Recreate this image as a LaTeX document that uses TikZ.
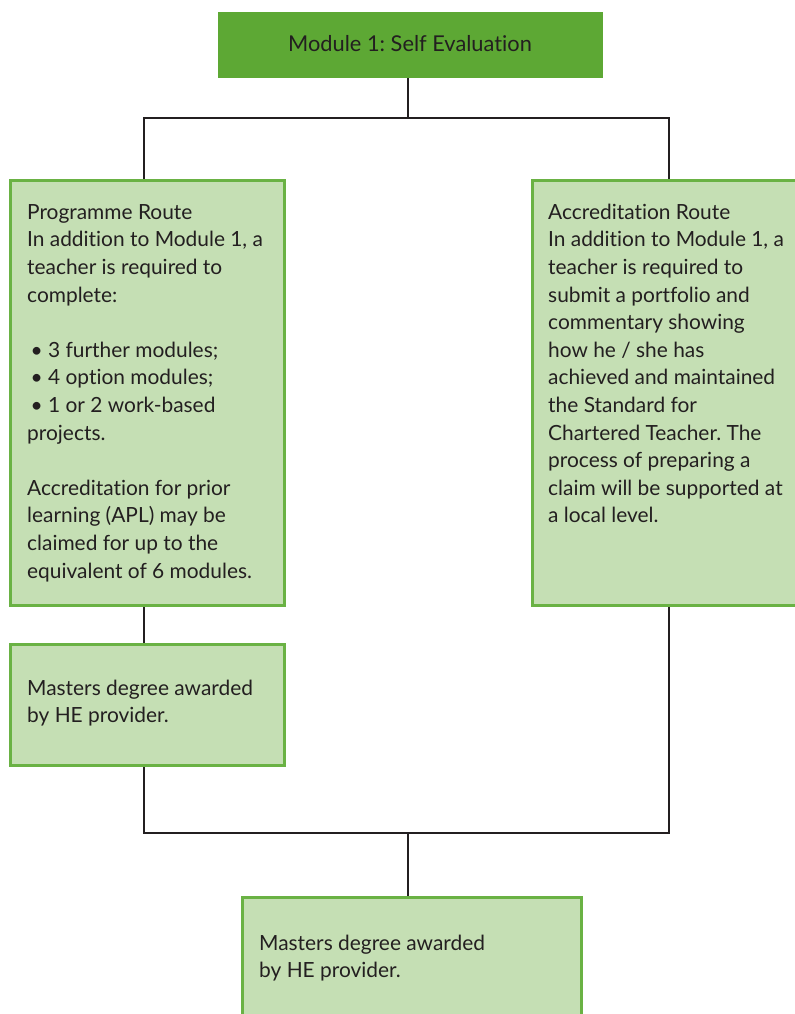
\documentclass[tikz,border=0pt]{standalone}
\usepackage{fontspec}
\setmainfont[Ligatures={NoCommon}]{Lato}
\usetikzlibrary{backgrounds}
\definecolor{topgreen}{RGB}{93,168,52}
\definecolor{lightfill}{RGB}{197,223,180}
\definecolor{boxline}{RGB}{106,178,68}
\definecolor{ink}{RGB}{35,31,32}
\newcommand{\firstline}{\rule{0pt}{22bp}}
\begin{document}
\frenchspacing
\begin{tikzpicture}[x=1bp,y=-1bp,
  lightbox/.style={draw=boxline, line width=2.6bp, fill=lightfill, rectangle, inner sep=0pt, anchor=north west},
  topbox/.style={fill=topgreen, rectangle, inner sep=0pt, anchor=north west},
  txt/.style={anchor=north west, inner sep=0pt, align=left, text=ink,
    font={\fontsize{20.9bp}{27.6bp}\selectfont}},
  conn/.style={draw=ink, line width=2.4bp, line join=miter}]
\useasboundingbox (0,0) rectangle (795,1014);
\clip (0,0) rectangle (795,1014);
% boxes
\node[topbox, minimum width=385bp, minimum height=66bp] (top) at (218,12) {};
\node[lightbox, minimum width=274bp, minimum height=425bp] (prog) at (9,179) {};
\node[lightbox, minimum width=290bp, minimum height=425bp] (acc) at (531,179) {};
\node[lightbox, minimum width=274bp, minimum height=121bp] (mast) at (9,643) {};
\node[lightbox, minimum width=339bp, minimum height=150bp] (final) at (241,896) {};
% texts
\node[txt, anchor=base, font={\fontsize{21.8bp}{27.6bp}\selectfont}] (toptxt) at (410,51) {Module 1: Self Evaluation};
\node[txt] (progtxt) at (27,197) {\firstline Programme Route\\
In addition to Module 1, a\\
teacher is required to\\
complete:\\[27.6bp]
\,• 3 further modules;\\
\,• 4 option modules;\\
\,• 1 or 2 work-based\\
projects.\\[27.6bp]
Accreditation for prior\\
learning (APL) may be\\
claimed for up to the\\
equivalent of 6 modules.};
\node[txt] (acctxt) at (548,197) {\firstline Accreditation Route\\
In addition to Module 1, a\\
teacher is required to\\
submit a portfolio and\\
commentary showing\\
how he / she has\\
achieved and maintained\\
the Standard for\\
Chartered Teacher. The\\
process of preparing a\\
claim will be supported at\\
a local level.};
\node[txt] (masttxt) at (27,673) {\firstline Masters degree awarded\\
by HE provider.};
\node[txt] (finaltxt) at (259,928) {\firstline Masters degree awarded\\
by HE provider.};
% junctions
\coordinate (j1) at (408,118);
\coordinate (j1l) at (144,118);
\coordinate (j1r) at (669,118);
\coordinate (j2) at (408,833);
\coordinate (j2l) at (144,833);
\coordinate (j2r) at (669,833);
\begin{scope}[on background layer]
\draw[conn] (top.south -| j1) -- (j1);
\draw[conn] (prog.north -| j1l) -- (j1l) -- (j1r) -- (acc.north -| j1r);
\draw[conn] (prog.south -| j1l) -- (mast.north -| j1l);
\draw[conn] (mast.south -| j2l) -- (j2l) -- (j2r) -- (acc.south -| j2r);
\draw[conn] (j2) -- (final.north -| j2);
\end{scope}
\end{tikzpicture}
\end{document}
